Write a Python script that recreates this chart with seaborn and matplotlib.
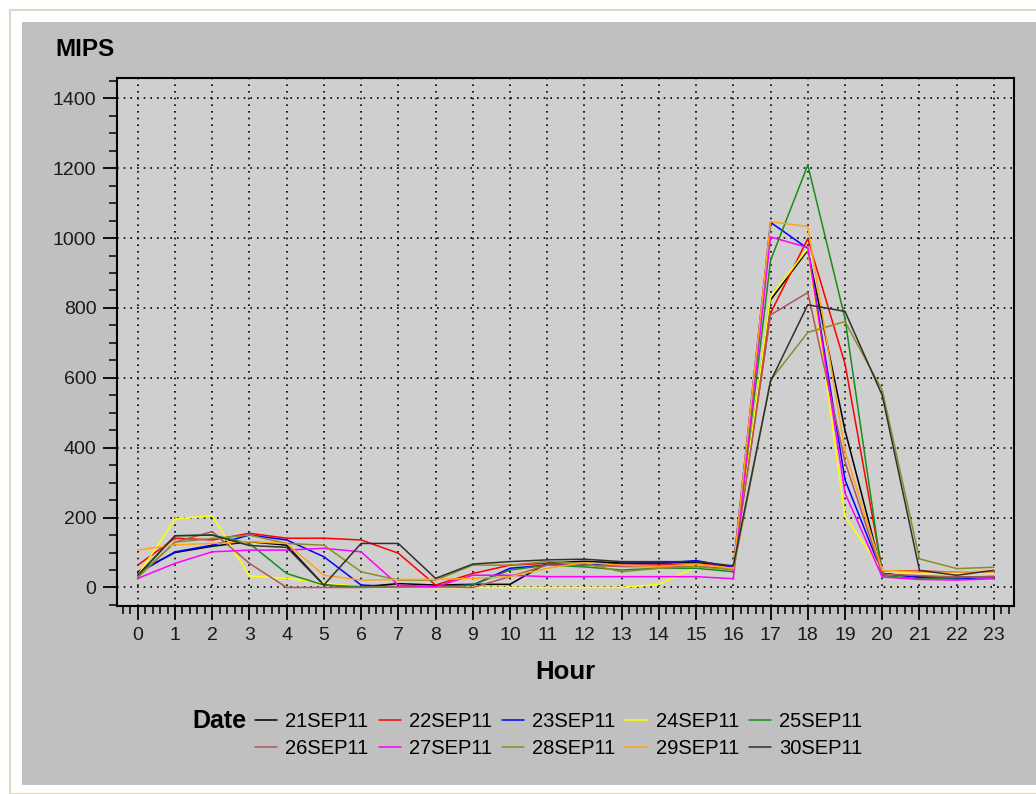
import pandas as pd
import seaborn as sns
import matplotlib
matplotlib.use('Agg')
import matplotlib.pyplot as plt
from matplotlib.patches import Rectangle
from matplotlib.ticker import MultipleLocator

hours = list(range(24))
dates = ['21SEP11', '22SEP11', '23SEP11', '24SEP11', '25SEP11',
         '26SEP11', '27SEP11', '28SEP11', '29SEP11', '30SEP11']
colors = ['#000000', '#ff0000', '#0000ff', '#ffff00', '#1a8c1a',
          '#b05858', '#ff00ff', '#8c8c28', '#ffa51a', '#303030']

# MIPS per hour
sep21 = [45, 100, 118, 131, 121, 7, 2, 11, 7, 9, 9, 70, 75, 70, 70, 72, 60, 823, 965, 450, 40, 30, 30, 30]
sep22 = [64, 141, 136, 155, 141, 141, 136, 98, 7, 40, 64, 69, 64, 64, 64, 67, 60, 785, 998, 640, 47, 47, 44, 44]
sep23 = [40, 102, 121, 150, 136, 88, 7, 2, 2, 7, 55, 64, 64, 69, 69, 77, 58, 1045, 970, 308, 40, 29, 25, 29]
sep24 = [35, 196, 205, 33, 26, 13, 2, 2, 0, 0, 0, 0, 0, 0, 9, 59, 55, 832, 970, 203, 49, 40, 40, 41]
sep25 = [33, 148, 150, 126, 40, 7, 2, 2, 2, 7, 50, 64, 59, 50, 55, 55, 45, 936, 1209, 770, 34, 25, 28, 32]
sep26 = [29, 130, 160, 69, 0, 0, 0, 2, 2, 0, 31, 64, 64, 60, 60, 60, 55, 780, 844, 360, 38, 34, 30, 30]
sep27 = [26, 69, 102, 107, 107, 112, 102, 7, 2, 35, 35, 31, 31, 31, 31, 31, 25, 1003, 973, 270, 30, 23, 21, 25]
sep28 = [30, 130, 140, 150, 126, 121, 45, 21, 21, 64, 64, 74, 69, 45, 55, 60, 50, 593, 730, 761, 565, 82, 54, 58]
sep29 = [107, 122, 126, 131, 126, 35, 21, 23, 23, 26, 31, 55, 71, 64, 60, 67, 55, 1047, 1033, 390, 49, 44, 44, 47]
sep30 = [35, 148, 150, 120, 115, 7, 126, 126, 26, 67, 74, 79, 81, 74, 74, 74, 62, 590, 809, 790, 550, 49, 35, 49]

series = [sep21, sep22, sep23, sep24, sep25, sep26, sep27, sep28, sep29, sep30]
rows = []
for d, vals in zip(dates, series):
    for h, v in zip(hours, vals):
        rows.append({'Hour': h, 'MIPS': v, 'Date': d})
df = pd.DataFrame(rows)

sns.set_theme(style='ticks')
plt.rcParams['font.family'] = ['Liberation Sans', 'DejaVu Sans']
plt.rcParams['text.color'] = 'black'

fig = plt.figure(figsize=(10.36, 7.94), dpi=100)
fig.patch.set_facecolor('white')
W, H = 1036.0, 794.0
# outer frame + gray panel
fig.patches.append(Rectangle((10 / W, 0), 1, 1 - 10 / H, transform=fig.transFigure,
                             facecolor='white', edgecolor='#dcd8c8', linewidth=1.5, zorder=-3))
fig.patches.append(Rectangle((22 / W, 1 - 785 / H), 1, (785 - 22) / H, transform=fig.transFigure,
                             facecolor='#c0c0c0', edgecolor='none', zorder=-2))

ax = fig.add_axes([117.3 / W, 1 - 606 / H, (1014 - 117.3) / W, (606 - 78) / H])
ax.set_facecolor('#cfcfcf')

sns.lineplot(data=df, x='Hour', y='MIPS', hue='Date', hue_order=dates,
             palette=dict(zip(dates, colors)), estimator=None, linewidth=1.1, ax=ax)

ax.set_xlim(-0.55, 23.54)
ax.set_ylim(-53, 1458)
ax.xaxis.set_major_locator(MultipleLocator(1))
ax.xaxis.set_minor_locator(MultipleLocator(0.2))
ax.yaxis.set_major_locator(MultipleLocator(200))
ax.yaxis.set_minor_locator(MultipleLocator(50))
ax.grid(True, which='major', color='black', linestyle=(0, (1, 3)), linewidth=1.2)
ax.tick_params(which='major', length=10, width=1.3, color='black', labelsize=14,
               labelcolor='#1a1a1a', pad=5)
ax.tick_params(which='minor', length=6, width=1.1, color='black')
for s in ax.spines.values():
    s.set_color('black')
    s.set_linewidth(1.5)
ax.set_xlabel('')
ax.set_ylabel('')

handles, labels = ax.get_legend_handles_labels()
ax.legend_.remove()
# legend fills column by column, so interleave to get row-wise order
order = [0, 5, 1, 6, 2, 7, 3, 8, 4, 9]
fig.legend([handles[i] for i in order], [labels[i] for i in order], ncol=5, loc='upper left',
           bbox_to_anchor=(255 / W, 1 - 712 / H), frameon=False, fontsize=14.5,
           handlelength=1.1, handletextpad=0.4, columnspacing=0.5,
           labelspacing=0.4, borderpad=0, borderaxespad=0)

fig.text(55 / W, 1 - 50 / H, 'MIPS', fontsize=17.5, fontweight='bold', va='center', ha='left')
fig.text(565.5 / W, 1 - 672 / H, 'Hour', fontsize=18.5, fontweight='bold', va='center', ha='center')
fig.text(192 / W, 1 - 721 / H, 'Date', fontsize=18, fontweight='bold', va='center', ha='left')

fig.savefig('out.png', dpi=100)
